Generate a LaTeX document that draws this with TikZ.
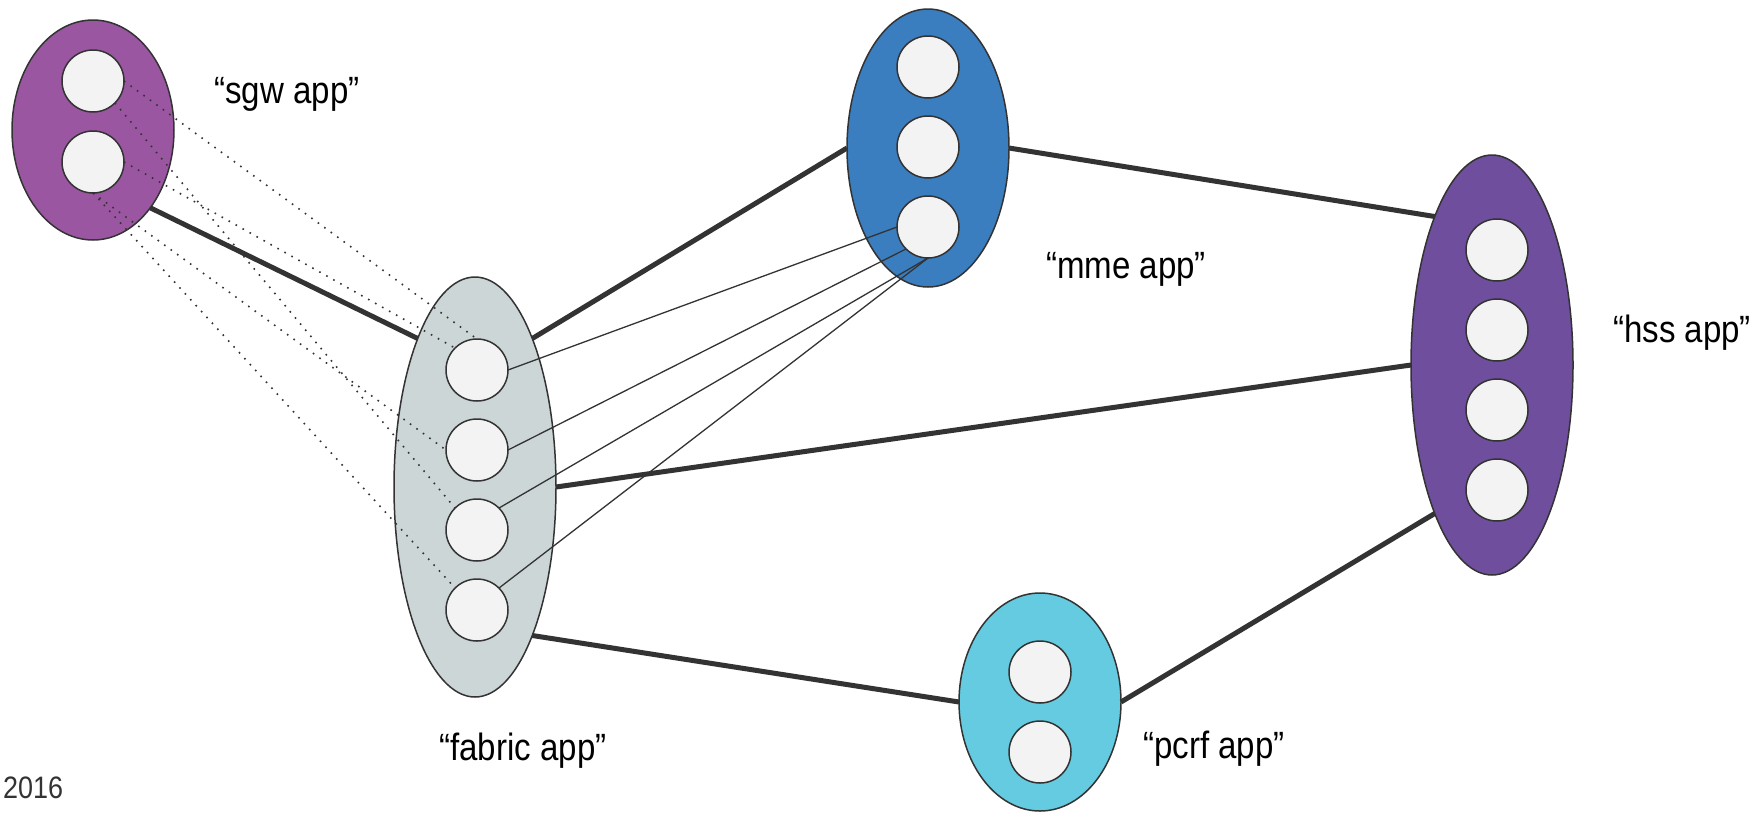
\documentclass[tikz,border=0pt]{standalone}
\usepackage{fontspec}
\setmainfont[FakeStretch=0.87]{Liberation Sans}
\usetikzlibrary{shapes.geometric}
\definecolor{sgwc}{RGB}{155,86,161}
\definecolor{mmec}{RGB}{58,126,192}
\definecolor{hssc}{RGB}{111,78,157}
\definecolor{pcrfc}{RGB}{101,203,225}
\definecolor{fabc}{RGB}{204,214,214}
\definecolor{instc}{RGB}{243,243,243}
\definecolor{linec}{RGB}{51,51,51}
\begin{document}
\begin{tikzpicture}[x=1pt,y=-1pt,
  app/.style={ellipse, draw=linec, line width=1.5pt, inner sep=0pt, outer sep=0pt, minimum width=162pt},
  inst/.style={circle, draw=linec, line width=1.5pt, fill=instc, inner sep=0pt, outer sep=0pt, minimum size=62pt},
  link/.style={draw=linec, line width=5pt},
  wire/.style={draw=linec, line width=1.3pt},
  dotline/.style={draw=linec, line width=1.6pt, dash pattern=on 1.6pt off 6.4pt},
  lbl/.style={anchor=base, font=\fontsize{38}{40}\selectfont, inner sep=0pt}]
\useasboundingbox (0,0) rectangle (1756,812);

% application ellipses
\node[app, fill=sgwc, minimum height=220pt] (sgw) at (93,130) {};
\node[app, fill=fabc, minimum height=420pt] (fabric) at (475,487) {};
\node[app, fill=mmec, minimum height=278pt] (mme) at (928,148) {};
\node[app, fill=hssc, minimum height=420pt] (hss) at (1492,365) {};
\node[app, fill=pcrfc, minimum height=218pt] (pcrf) at (1040,702) {};

% instances
\node[inst] (s1) at (93,81) {};
\node[inst] (s2) at (93,162) {};
\node[inst] (f1) at (477,370) {};
\node[inst] (f2) at (477,450) {};
\node[inst] (f3) at (477,530) {};
\node[inst] (f4) at (477,610) {};
\node[inst] (m1) at (928,67) {};
\node[inst] (m2) at (928,147) {};
\node[inst] (m3) at (928,227) {};
\node[inst] (h1) at (1497,250) {};
\node[inst] (h2) at (1497,330) {};
\node[inst] (h3) at (1497,410) {};
\node[inst] (h4) at (1497,490) {};
\node[inst] (p1) at (1040,672) {};
\node[inst] (p2) at (1040,752) {};

% thick links between apps
\draw[link] (sgw.south east) -- (fabric.north west);
\draw[link] (fabric.north east) -- (mme.west);
\draw[link] (mme.east) -- (hss.north west);
\draw[link] (fabric.east) -- (hss.west);
\draw[link] (fabric.south east) -- (pcrf.west);
\draw[link] (pcrf.east) -- (hss.south west);

% thin links fabric -> mme
\draw[wire] (f1.east) -- (m3.west);
\draw[wire] (f2.east) -- (m3.south west);
\draw[wire] (f3.north east) -- (m3.south);
\draw[wire] (f4.north east) -- (m3.south);

% dotted links sgw -> fabric
\draw[dotline] (s1.east) -- (f1.north);
\draw[dotline] (s2.east) -- (f1.north west);
\draw[dotline] (s2.south) -- (f2.west);
\draw[dotline] (s1.south east) -- (f3.north west);
\draw[dotline] (s2.south) -- (f4.north west);

% labels
\node[lbl] (lsgw) at (287,103) {“sgw app”};
\node[lbl] (lfab) at (523,760) {“fabric app”};
\node[lbl] (lmme) at (1126,278) {“mme app”};
\node[lbl] (lhss) at (1682,342) {“hss app”};
\node[lbl] (lpcrf) at (1214,758) {“pcrf app”};
\node[anchor=base west, inner sep=0pt, font=\fontsize{31}{33}\selectfont, text=linec] (year) at (3,798) {2016};
\end{tikzpicture}
\end{document}
